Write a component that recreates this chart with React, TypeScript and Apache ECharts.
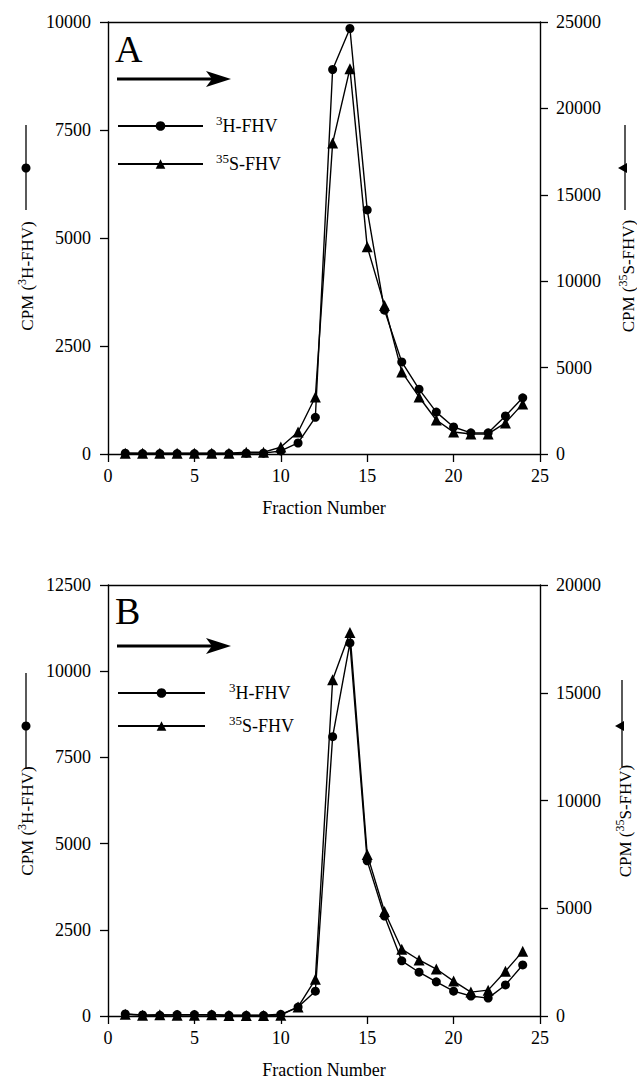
import React, { useEffect, useRef } from "react";
import * as echarts from "echarts";

const fractions = [1, 2, 3, 4, 5, 6, 7, 8, 9, 10, 11, 12, 13, 14, 15, 16, 17, 18, 19, 20, 21, 22, 23, 24];

// Panel A
const panelA_H3 = [20, 10, 10, 10, 10, 10, 10, 20, 20, 70, 255, 850, 8900, 9850, 5650, 3330, 2130, 1500, 970, 625, 490, 490, 880, 1300];
const panelA_S35 = [50, 50, 50, 50, 50, 50, 50, 100, 100, 400, 1270, 3300, 18000, 22300, 12000, 8600, 4750, 3300, 1970, 1270, 1160, 1160, 1800, 2900];
// Panel B
const panelB_H3 = [60, 30, 20, 40, 40, 40, 20, 20, 20, 50, 260, 720, 8100, 10820, 4500, 2900, 1600, 1270, 990, 720, 580, 520, 900, 1480];
const panelB_S35 = [80, 40, 60, 40, 40, 60, 20, 20, 20, 40, 420, 1700, 15600, 17800, 7500, 4850, 3100, 2600, 2180, 1620, 1110, 1200, 2080, 3000];

const xTicks = { min: 0, max: 25, interval: 5 };
const yA_left = { min: 0, max: 10000, interval: 2500 };
const yA_right = { min: 0, max: 25000, interval: 5000 };
const yB_left = { min: 0, max: 12500, interval: 2500 };
const yB_right = { min: 0, max: 20000, interval: 5000 };

const FONT = "'Liberation Serif', 'Times New Roman', serif";
const BLACK = "#000";

const pairs = (ys: number[]) => fractions.map((f, i) => [f, ys[i]]);
const plain = (v: number) => String(v);

const rich = {
  t: { fontSize: 18, lineHeight: 24, fontFamily: FONT, color: BLACK },
  sup: { fontSize: 13, lineHeight: 13, fontFamily: FONT, color: BLACK, verticalAlign: "top" },
};
const richA = { ...rich, sup: { ...rich.sup, padding: [0, 0, 0, 8] } };
const richB = { ...rich, sup: { ...rich.sup, padding: [0, 0, 0, 19] } };

const nameRich = {
  t: { fontSize: 17, lineHeight: 22, fontFamily: FONT, color: BLACK },
  sup: { fontSize: 12, lineHeight: 12, fontFamily: FONT, color: BLACK, verticalAlign: "top" },
};

function xAxes(gridIndex: number) {
  return [
    {
      type: "value", gridIndex, position: "bottom", ...xTicks,
      name: "Fraction Number", nameLocation: "middle", nameGap: 45,
      nameTextStyle: { fontFamily: FONT, fontSize: 18, color: BLACK },
      axisLine: { show: true, onZero: false, lineStyle: { color: BLACK, width: 1.4 } },
      axisTick: { show: true, length: 8, lineStyle: { color: BLACK, width: 1.3 } },
      axisLabel: { fontFamily: FONT, fontSize: 18, color: BLACK, margin: 13, formatter: plain },
      splitLine: { show: false },
    },
    {
      type: "value", gridIndex, position: "top", ...xTicks,
      axisLine: { show: true, onZero: false, lineStyle: { color: BLACK, width: 1.4 } },
      axisTick: { show: false }, axisLabel: { show: false }, splitLine: { show: false },
    },
  ];
}

function yAxis(gridIndex: number, position: string, range: any) {
  return {
    type: "value", gridIndex, position, ...range,
    axisLine: { show: true, onZero: false, lineStyle: { color: BLACK, width: 1.4 } },
    axisTick: { show: true, length: 8, lineStyle: { color: BLACK, width: 1.3 } },
    axisLabel: { fontFamily: FONT, fontSize: 18, color: BLACK, margin: position === "left" ? 17 : 16, formatter: plain },
    splitLine: { show: false },
  };
}

function series(name: string, data: number[], xi: number, yi: number, symbol: string) {
  return {
    name, type: "line", xAxisIndex: xi, yAxisIndex: yi, data: pairs(data),
    symbol, symbolSize: symbol === "circle" ? 9 : 11,
    lineStyle: { color: BLACK, width: 1.4 },
    itemStyle: { color: BLACK },
    z: symbol === "circle" ? 3 : 2,
  };
}

const labelFmt = (name: string) =>
  name.endsWith("3H") ? "{sup|3}{t|H-FHV}" : "{sup|35}{t|S-FHV}";

function arrow(y: number) {
  return [
    { type: "line", shape: { x1: 117, y1: y, x2: 216, y2: y }, style: { stroke: BLACK, lineWidth: 3 } },
    { type: "polygon", shape: { points: [[231, y], [206, y - 8], [212, y], [206, y + 8]] }, style: { fill: BLACK } },
  ];
}

function leftMarker(x: number, y1: number, y2: number, cy: number) {
  return [
    { type: "line", shape: { x1: x, y1, x2: x, y2 }, style: { stroke: BLACK, lineWidth: 1.3 } },
    { type: "circle", shape: { cx: x, cy, r: 4.5 }, style: { fill: BLACK } },
  ];
}
function rightMarker(x: number, y1: number, y2: number, cy: number) {
  return [
    { type: "line", shape: { x1: x, y1, x2: x, y2 }, style: { stroke: BLACK, lineWidth: 1.3 } },
    { type: "polygon", shape: { points: [[x - 7, cy], [x + 2, cy - 5], [x + 2, cy + 5]] }, style: { fill: BLACK } },
  ];
}
function vText(x: number, y: number, text: string) {
  return {
    type: "text", x, y, rotation: Math.PI / 2,
    style: { text, rich: nameRich, align: "center", verticalAlign: "middle", fill: BLACK },
  };
}

export default function App() {
  const ref = useRef<HTMLDivElement>(null);
  useEffect(() => {
    if (!ref.current) return;
    const chart = echarts.init(ref.current, null, { renderer: "svg" });
    chart.setOption({
      animation: false,
      backgroundColor: "#fff",
      grid: [
        { left: 108, top: 22, width: 432, height: 432 },
        { left: 108, top: 585, width: 432, height: 432 },
      ],
      xAxis: [...xAxes(0), ...xAxes(1)],
      yAxis: [
        yAxis(0, "left", yA_left),
        yAxis(0, "right", yA_right),
        yAxis(1, "left", yB_left),
        yAxis(1, "right", yB_right),
      ],
      legend: [
        {
          orient: "vertical", left: 117, top: 114, padding: 0, itemWidth: 85, itemHeight: 12, itemGap: 17,
          selectedMode: false, data: ["A 3H", "A 35S"], formatter: labelFmt,
          textStyle: { rich: richA },
        },
        {
          orient: "vertical", left: 117, top: 681, padding: 0, itemWidth: 87, itemHeight: 12, itemGap: 12,
          selectedMode: false, data: ["B 3H", "B 35S"], formatter: labelFmt,
          textStyle: { rich: richB },
        },
      ],
      series: [
        series("A 3H", panelA_H3, 0, 0, "circle"),
        series("A 35S", panelA_S35, 0, 1, "triangle"),
        series("B 3H", panelB_H3, 2, 2, "circle"),
        series("B 35S", panelB_S35, 2, 3, "triangle"),
      ],
      graphic: [
        { type: "text", x: 115, y: 49, style: { text: "A", font: `38px ${FONT}`, fill: BLACK, verticalAlign: "middle" } },
        { type: "text", x: 115, y: 611, style: { text: "B", font: `38px ${FONT}`, fill: BLACK, verticalAlign: "middle" } },
        ...arrow(79),
        ...arrow(646),
        ...leftMarker(26, 125, 210, 168),
        ...rightMarker(625, 125, 210, 168),
        ...leftMarker(26, 673, 768, 726),
        ...rightMarker(622, 680, 767, 726),
        vText(27, 276, "{t|CPM (}{sup|3}{t|H-FHV)}"),
        vText(628, 276, "{t|CPM (}{sup|35}{t|S-FHV)}"),
        vText(27, 821, "{t|CPM (}{sup|3}{t|H-FHV)}"),
        vText(625, 821, "{t|CPM (}{sup|35}{t|S-FHV)}"),
      ],
    });
    return () => chart.dispose();
  }, []);
  return (
    <div
      ref={ref}
      style={{ position: "absolute", left: 0, top: 0, width: 637, height: 1080, background: "#fff" }}
    />
  );
}
